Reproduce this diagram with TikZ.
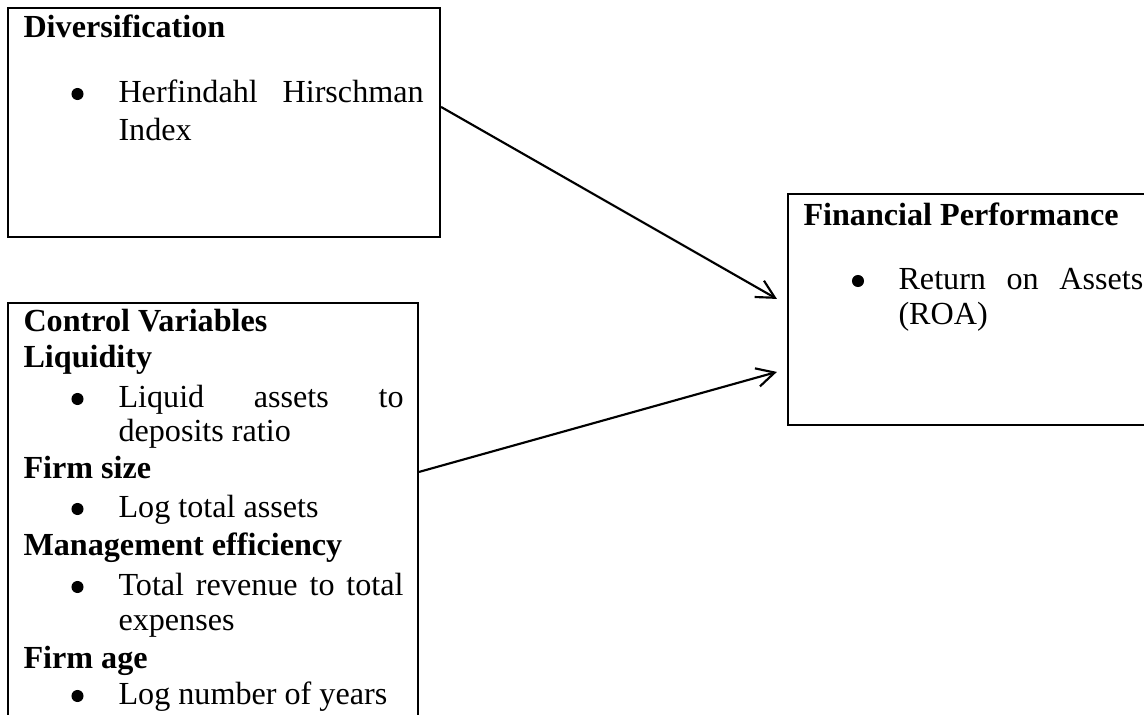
\documentclass[tikz,border=0pt]{standalone}
\usepackage{fontspec}
\setmainfont{Liberation Serif}
\usetikzlibrary{arrows.meta,fit,calc}
\tikzset{
  box/.style={draw, line width=0.8pt, inner sep=0pt},
  hd/.style={anchor=base west, inner sep=0pt, font=\fontsize{12}{14}\selectfont\bfseries},
  tx/.style={anchor=base west, inner sep=0pt},
  bul/.style={circle, fill, draw=none, inner sep=0pt, minimum size=4.5pt},
  arr/.style={-{Straight Barb[length=6.7pt,width=7pt]}, line width=0.8pt}
}
\begin{document}
\begin{tikzpicture}[x=0.37325pt, y=-0.37325pt, font=\fontsize{12}{14}\selectfont]
\useasboundingbox (0,0) rectangle (1144,715);
% boxes
\node[box, fit={(8,8) (440,237)}] (div) {};
\node[box, fit={(8,303) (418,740)}] (ctrl) {};
\node[box, fit={(788,194) (1170,425)}] (fin) {};
% Diversification
\node[hd] (d0) at (23,38) {Diversification};
\node[bul] (d1b) at (77.5,94) {};
\node[tx] (d1) at (118,103) {\makebox[113.9pt][s]{Herfindahl Hirschman}};
\node[tx] (d2) at (118,141) {Index};
% Financial performance
\node[hd] (f0) at (803,226) {Financial Performance};
\node[bul] (f1b) at (858,281) {};
\node[tx] (f1) at (898,290) {\makebox[91.4pt][s]{Return on Assets}};
\node[tx] (f2) at (898,325) {(ROA)};
% Control variables
\node[hd] (c0) at (23,332) {Control Variables};
\node[hd] (c1) at (23,368) {Liquidity};
\node[bul] (c2b) at (77.5,399) {};
\node[tx] (c2) at (118,408) {\makebox[106.4pt][s]{Liquid assets to}};
\node[tx] (c3) at (118,442) {deposits ratio};
\node[hd] (c4) at (23,479) {Firm size};
\node[bul] (c5b) at (77.5,509) {};
\node[tx] (c5) at (118,518) {Log total assets};
\node[hd] (c6) at (23,556) {Management efficiency};
\node[bul] (c7b) at (77.5,587) {};
\node[tx] (c7) at (118,596) {\makebox[106.4pt][s]{Total revenue to total}};
\node[tx] (c8) at (118,631) {expenses};
\node[hd] (c9) at (23,669) {Firm age};
\node[bul] (c10b) at (77.5,696) {};
\node[tx] (c10) at (118,705) {Log number of years};
% arrows
\draw[arr] ($(div.north east)+(0,100)$) -- ($(fin.north west)+(-10,106)$);
\draw[arr] ($(ctrl.north east)+(0,170)$) -- ($(fin.north west)+(-10,179)$);
\end{tikzpicture}
\end{document}
